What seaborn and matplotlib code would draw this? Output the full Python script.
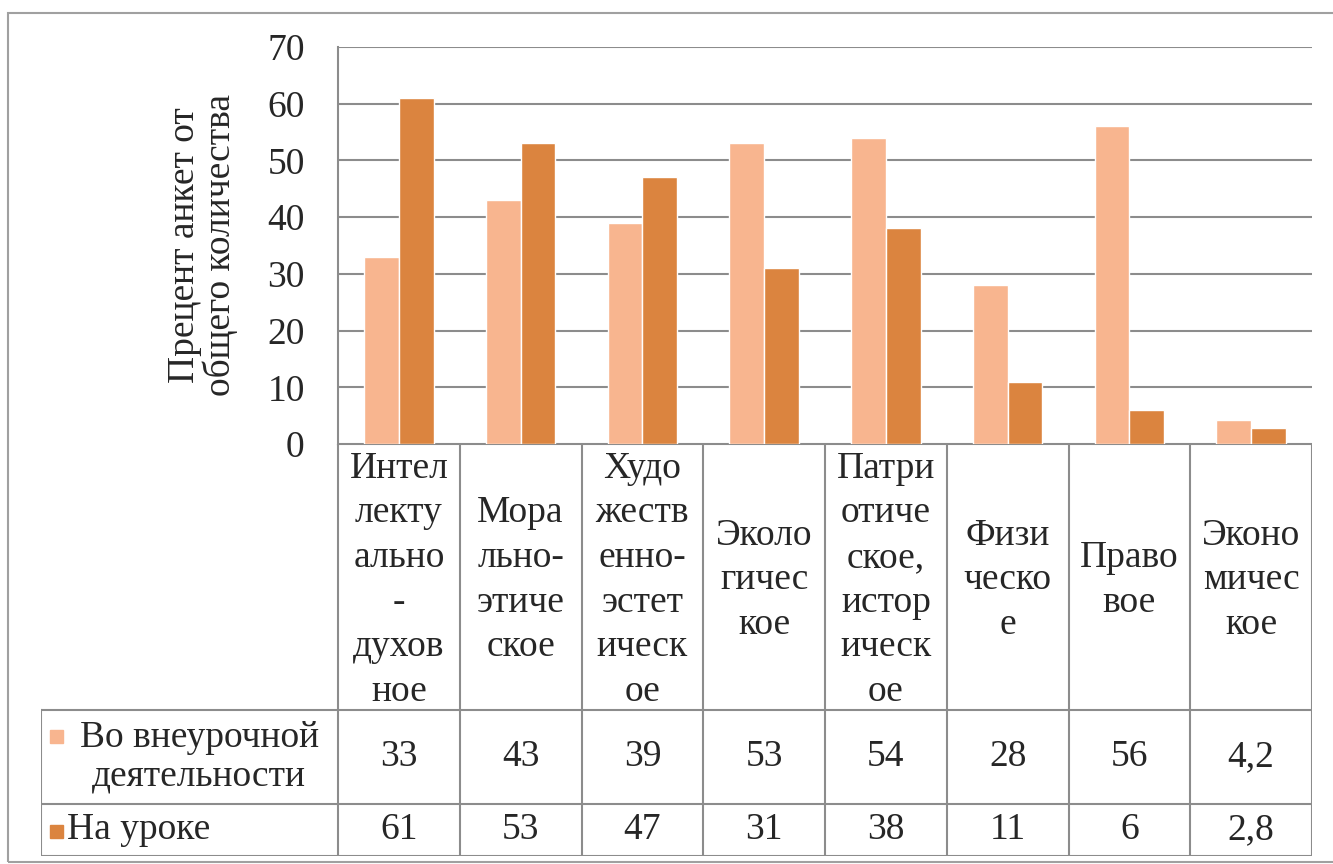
import matplotlib
matplotlib.use("Agg")
import matplotlib.pyplot as plt
import seaborn as sns
import pandas as pd

# data
categories = ["Интел\nлекту\nально\n-\nдухов\nное",
              "Мора\nльно-\nэтиче\nское",
              "Худо\nжеств\nенно-\nэстет\nическ\nое",
              "Эколо\nгичес\nкое",
              "Патри\nотиче\nское,\nистор\nическ\nое",
              "Физи\nческо\nе",
              "Право\nвое",
              "Эконо\nмичес\nкое"]
extracurricular = [33, 43, 39, 53, 54, 28, 56, 4.2]
in_lesson = [61, 53, 47, 31, 38, 11, 6, 2.8]
series_names = ["Во внеурочной\nдеятельности", "На уроке"]
colors = ["#F8B58F", "#DB843F"]
grid_col = "#8C8C8C"

df = pd.DataFrame({
    "cat": categories * 2,
    "value": extracurricular + in_lesson,
    "series": [series_names[0]] * 8 + [series_names[1]] * 8,
})

sns.set_theme(style="white", font="Liberation Serif",
              rc={"font.serif": ["Liberation Serif", "DejaVu Serif"]})
plt.rcParams["font.family"] = "Liberation Serif"
FS = 27
tkw = dict(family="Liberation Serif", fontsize=FS)

W, H = 1333, 864
fig = plt.figure(figsize=(W / 100, H / 100), dpi=100)

def fx(px):
    return px / W

def fy(py):
    return 1 - py / H

# outer border
fig.add_artist(plt.Rectangle((fx(8), fy(862)), 1.0, fy(13) - fy(862),
                             transform=fig.transFigure, fill=False,
                             edgecolor="#A0A0A0", lw=1.5))

left, right, top, bottom = 338, 1312, 47, 444
ax = fig.add_axes([fx(left), fy(bottom), fx(right - left), fy(top) - fy(bottom)])
sns.barplot(data=df, x="cat", y="value", hue="series", palette=colors,
            width=0.57, gap=0, saturation=1, ax=ax, legend=False)
ax.set_ylim(0, 70)
ax.set_xlim(-0.5, 7.5)
ax.tick_params(axis="y", length=0, pad=24)
yt = list(range(0, 71, 10))
ax.set_yticks(yt)
ax.set_yticklabels([str(v) for v in yt], **tkw)
ax.yaxis.grid(True, color=grid_col, lw=1.5)
ax.set_axisbelow(True)
ax.set_xticks([])
ax.set_xlabel("")
ax.set_ylabel("Прецент анкет от\nобщего количества", labelpad=21,
              linespacing=1.0, **tkw)
for s in ["top", "right", "bottom"]:
    ax.spines[s].set_visible(False)
ax.spines["left"].set_color(grid_col)
ax.spines["left"].set_linewidth(1.5)

# data table below the plot
tab_left, tab_bottom = 41, 856
unit = (right - left) / 8
lcol = (left - tab_left) / unit
tx = fig.add_axes([fx(tab_left), fy(tab_bottom), fx(right - tab_left), fy(bottom) - fy(tab_bottom)])
tx.set_xlim(-0.5 - lcol, 7.5)
tx.set_ylim(tab_bottom, bottom)
tx.axis("off")

row_cat = (bottom, 710)
row1 = (710, 804)
row2 = (804, tab_bottom)
lkw = dict(color=grid_col, lw=1.5, solid_capstyle="projecting")

# horizontal lines
tx.plot([-0.5, 7.5], [bottom, bottom], **lkw)
for yy in [row1[0], row2[0], tab_bottom]:
    tx.plot([-0.5 - lcol, 7.5], [yy, yy], **lkw)
# vertical lines
for i in range(9):
    tx.plot([i - 0.5, i - 0.5], [bottom, tab_bottom], **lkw)
tx.plot([-0.5 - lcol, -0.5 - lcol], [row1[0], tab_bottom], **lkw)

for i, c in enumerate(categories):
    tx.text(i, sum(row_cat) / 2 + 3, c, ha="center", va="center",
            linespacing=1.38, **tkw)

def fmt(v):
    return str(v).replace(".", ",") if v % 1 else str(int(v))

for i in range(8):
    tx.text(i, sum(row1) / 2, fmt(extracurricular[i]), ha="center", va="center", **tkw)
    tx.text(i, sum(row2) / 2, fmt(in_lesson[i]), ha="center", va="center", **tkw)

# legend keys inside table
key_x = -0.5 - lcol + 0.07
kw = 0.11
tx.add_patch(plt.Rectangle((key_x, 743), kw, -13, color=colors[0]))
tx.add_patch(plt.Rectangle((key_x, 838), kw, -13, color=colors[1]))
tx.text(-0.5 - lcol / 2 + 0.08, sum(row1) / 2, series_names[0], ha="center",
        va="center", linespacing=1.12, multialignment="center", **tkw)
tx.text(key_x + kw + 0.03, sum(row2) / 2, series_names[1], ha="left",
        va="center", **tkw)

fig.savefig("out.png", dpi=100)
